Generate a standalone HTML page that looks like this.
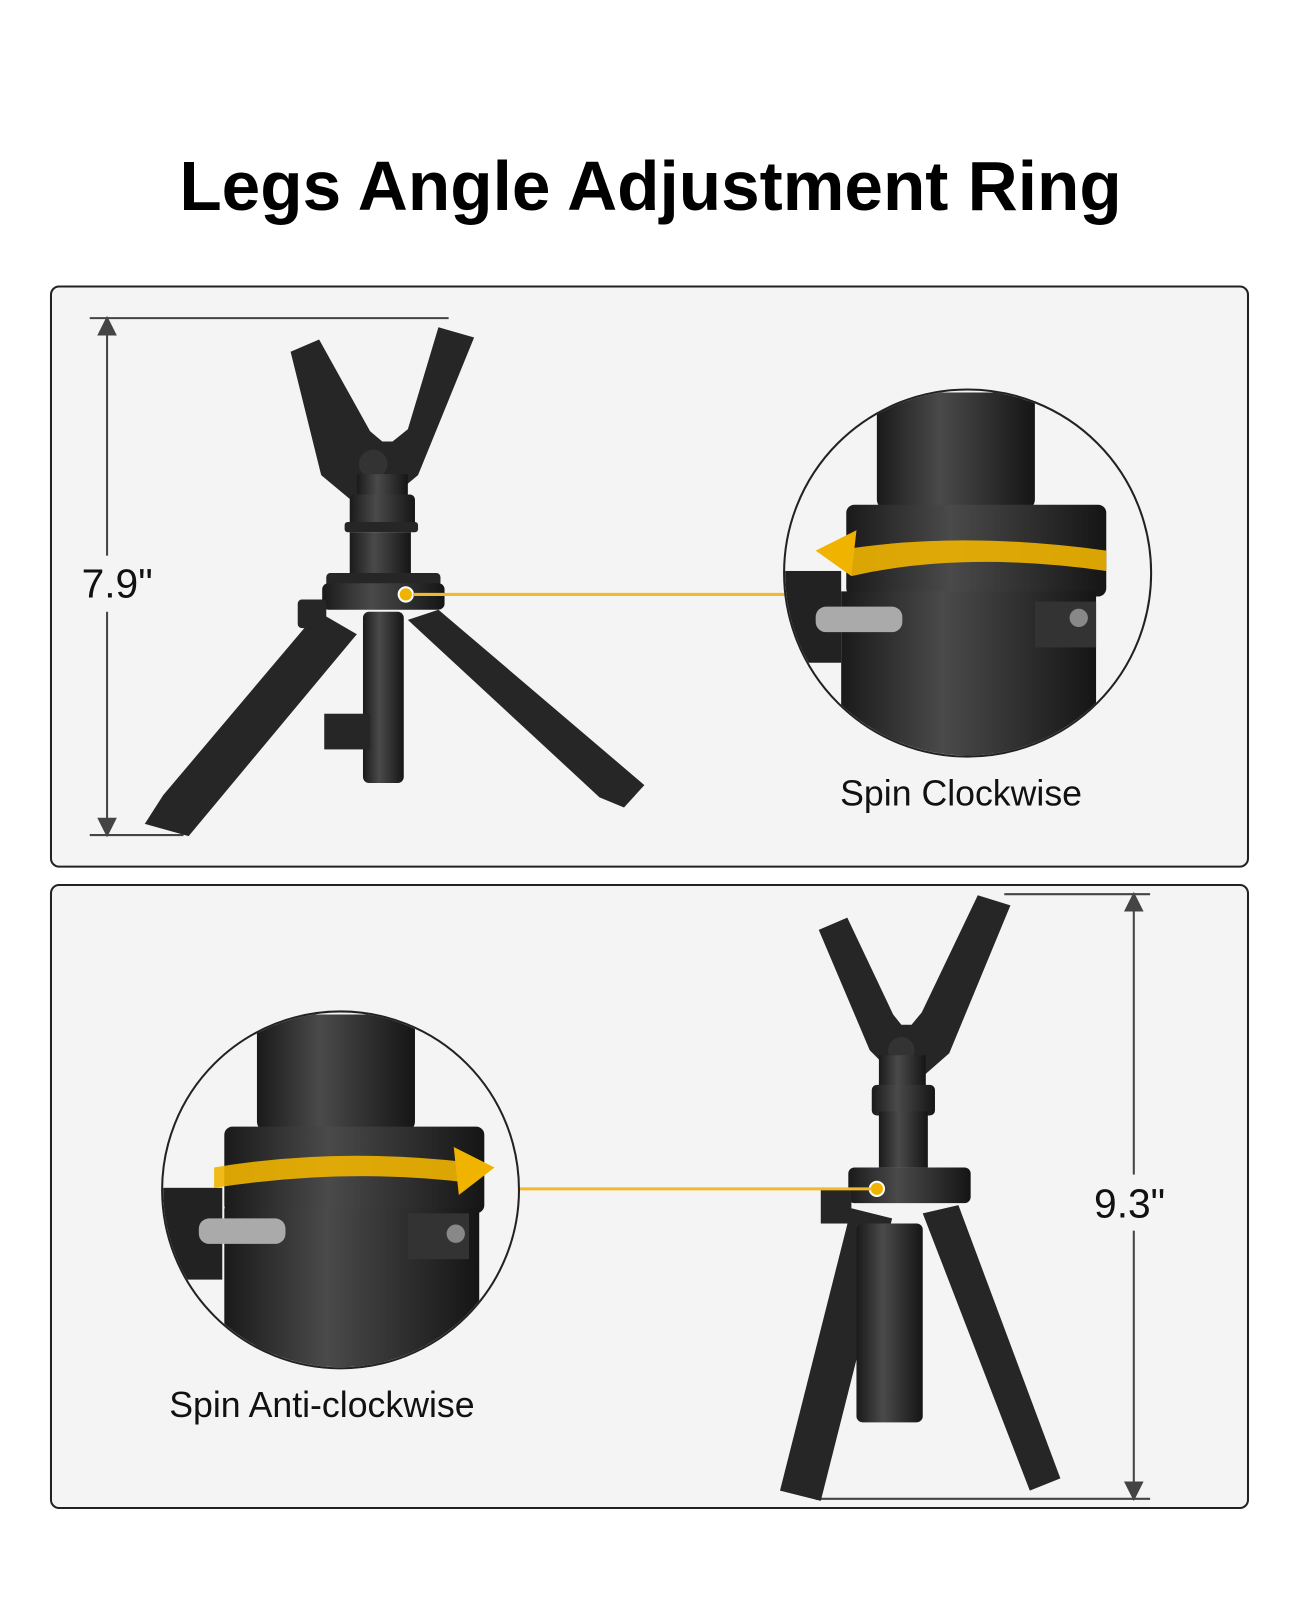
<!DOCTYPE html>
<html><head><meta charset="utf-8"><style>
body{margin:0;background:#fff;}
svg{display:block}
</style></head><body>
<svg width="1300" height="1600" viewBox="0 0 1300 1600" xmlns="http://www.w3.org/2000/svg">
<defs>
<linearGradient id="m" x1="0" x2="1"><stop offset="0" stop-color="#1a1a1a"/><stop offset=".4" stop-color="#4a4a4a"/><stop offset="1" stop-color="#151515"/></linearGradient>
<clipPath id="c1"><circle cx="949" cy="562" r="179"/></clipPath>
<clipPath id="c2"><circle cx="334" cy="1167" r="174"/></clipPath>
</defs>
<rect width="1300" height="1600" fill="#fff"/>
<g transform="scale(1.0196)">
<text x="638" y="206" text-anchor="middle" font-family="Liberation Sans, sans-serif" font-weight="bold" font-size="68" fill="#000">Legs Angle Adjustment Ring</text>

<rect x="50" y="281" width="1174" height="569" rx="8" fill="#f4f4f4" stroke="#222" stroke-width="2"/>
<rect x="50" y="868" width="1174" height="611" rx="8" fill="#f4f4f4" stroke="#222" stroke-width="2"/>

<g stroke="#444" stroke-width="2" fill="#444">
<line x1="88" y1="312" x2="440" y2="312"/><line x1="88" y1="819" x2="180" y2="819"/>
<line x1="105" y1="320" x2="105" y2="810"/>
<polygon points="105,312 97,328 113,328"/><polygon points="105,819 97,803 113,803"/>
<line x1="985" y1="877" x2="1128" y2="877"/><line x1="800" y1="1470" x2="1128" y2="1470"/>
<line x1="1112" y1="885" x2="1112" y2="1462"/>
<polygon points="1112,877 1104,893 1120,893"/><polygon points="1112,1470 1104,1454 1120,1454"/>
</g>
<rect x="75" y="545" width="90" height="55" fill="#f4f4f4"/>
<rect x="1068" y="1152" width="92" height="55" fill="#f4f4f4"/>
<text x="80" y="586" font-family="Liberation Sans, sans-serif" font-size="40" fill="#111">7.9"</text>
<text x="1073" y="1194" font-family="Liberation Sans, sans-serif" font-size="40" fill="#111">9.3"</text>

<!-- tripod 1 -->
<g fill="#262626">
<path d="M285,345 l28,-12 l50,90 l12,10 l10,0 l15,-12 l30,-100 l35,10 l-55,135 l-30,25 l-35,0 l-30,-25 z"/>
<circle cx="366" cy="455" r="14" fill="#333"/>
<rect x="350" y="465" width="50" height="25" fill="url(#m)"/>
<rect x="343" y="485" width="64" height="32" rx="5" fill="url(#m)"/>
<rect x="338" y="512" width="72" height="10" rx="3"/>
<rect x="343" y="522" width="60" height="45" fill="url(#m)"/>
<rect x="320" y="562" width="112" height="14" rx="4"/>
<rect x="316" y="572" width="120" height="26" rx="6" fill="url(#m)"/>
<polygon points="312,600 350,622 185,820 142,808 160,780"/>
<polygon points="400,608 430,598 632,770 612,792 588,782"/>
<rect x="356" y="600" width="40" height="168" rx="6" fill="url(#m)"/>
<rect x="292" y="588" width="28" height="28" rx="4"/>
<rect x="318" y="700" width="45" height="35"/>
</g>
<circle cx="398" cy="583" r="7" fill="#f0b400" stroke="#fff" stroke-width="2"/>
<line x1="405" y1="583" x2="772" y2="583" stroke="#f2b92c" stroke-width="3"/>

<circle cx="949" cy="562" r="180" fill="#f4f4f4" stroke="#222" stroke-width="2"/>
<g clip-path="url(#c1)">
<rect x="860" y="385" width="155" height="115" rx="10" fill="url(#m)"/>
<rect x="830" y="495" width="255" height="90" rx="8" fill="url(#m)"/>
<rect x="825" y="580" width="250" height="170" fill="url(#m)"/>
<rect x="770" y="560" width="55" height="90" fill="#222"/>
<rect x="800" y="595" width="85" height="25" rx="10" fill="#aaa"/>
<rect x="1015" y="590" width="60" height="45" fill="#333"/>
<circle cx="1058" cy="606" r="9" fill="#888"/>
<path d="M820,540 q120,-20 265,0 l0,20 q-140,-20 -250,5 z" fill="#f0b400" opacity=".9"/>
<polygon points="800,540 840,520 835,565" fill="#f0b400"/>
</g>
<text x="824" y="790" font-family="Liberation Sans, sans-serif" font-size="35" fill="#111">Spin Clockwise</text>

<!-- tripod 2 -->
<g fill="#262626">
<path d="M803,912 l28,-12 l45,95 l8,10 l10,0 l10,-12 l55,-115 l32,10 l-60,145 l-25,22 l-28,0 l-25,-25 z"/>
<circle cx="884" cy="1030" r="13" fill="#333"/>
<rect x="862" y="1035" width="46" height="35" fill="url(#m)"/>
<rect x="855" y="1064" width="62" height="30" rx="5" fill="url(#m)"/>
<rect x="862" y="1090" width="48" height="55" fill="url(#m)"/>
<rect x="832" y="1145" width="120" height="35" rx="6" fill="url(#m)"/>
<rect x="805" y="1165" width="30" height="35"/>
<polygon points="835,1185 875,1195 805,1472 765,1462"/>
<polygon points="905,1190 940,1182 1040,1450 1010,1462"/>
<rect x="840" y="1200" width="65" height="195" rx="6" fill="url(#m)"/>
</g>
<circle cx="860" cy="1166" r="7" fill="#f0b400" stroke="#fff" stroke-width="2"/>
<line x1="510" y1="1166" x2="855" y2="1166" stroke="#f2b92c" stroke-width="3"/>

<circle cx="334" cy="1167" r="175" fill="#f4f4f4" stroke="#222" stroke-width="2"/>
<g clip-path="url(#c2)">
<rect x="252" y="995" width="155" height="115" rx="10" fill="url(#m)"/>
<rect x="220" y="1105" width="255" height="85" rx="8" fill="url(#m)"/>
<rect x="220" y="1185" width="250" height="170" fill="url(#m)"/>
<rect x="160" y="1165" width="58" height="90" fill="#222"/>
<rect x="195" y="1195" width="85" height="25" rx="10" fill="#aaa"/>
<rect x="400" y="1190" width="60" height="45" fill="#333"/>
<circle cx="447" cy="1210" r="9" fill="#888"/>
<path d="M210,1145 q120,-20 250,-5 l0,20 q-120,-15 -250,5 z" fill="#f0b400" opacity=".9"/>
<polygon points="485,1145 445,1125 450,1172" fill="#f0b400"/>
</g>
<text x="166" y="1390" font-family="Liberation Sans, sans-serif" font-size="35" fill="#111">Spin Anti-clockwise</text>
</g>
</svg>
</body></html>
